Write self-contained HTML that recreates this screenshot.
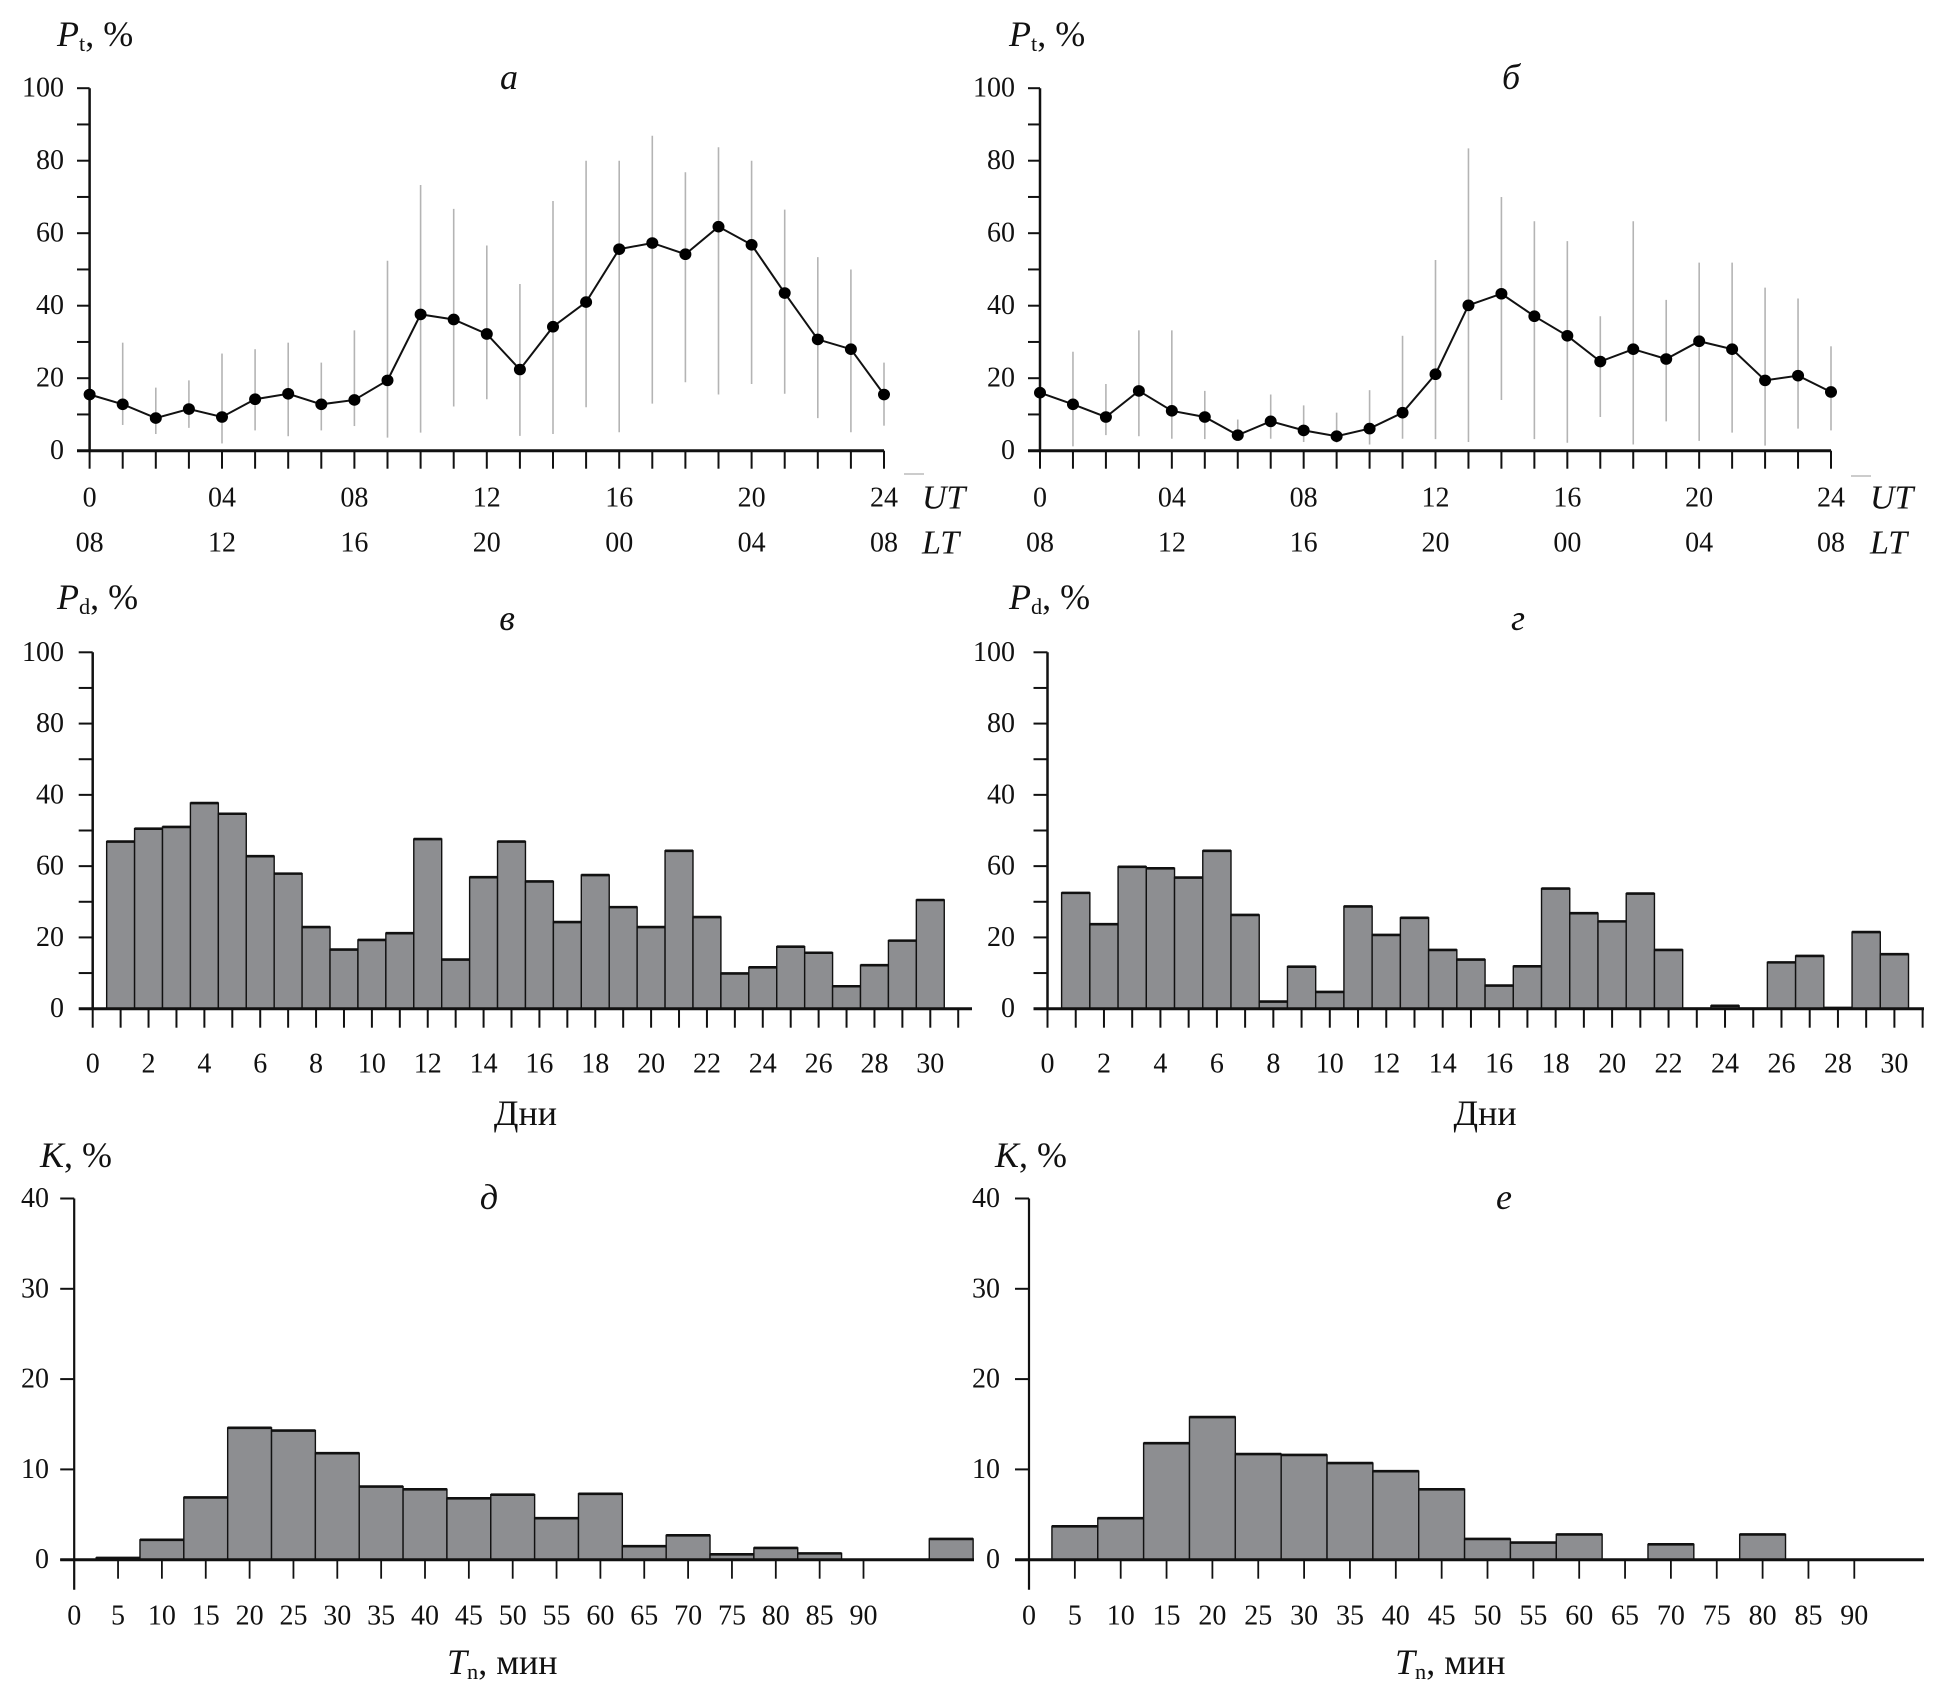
<!DOCTYPE html>
<html><head><meta charset="utf-8"><style>
html,body{margin:0;padding:0;background:#fff;}
svg{display:block;font-family:"Liberation Serif",serif;}
</style></head>
<body>
<svg id="fig" width="1938" height="1701" viewBox="0 0 1938 1701" xmlns="http://www.w3.org/2000/svg"></svg>
<script>
// ---------- DATA ----------
const hours = [0,1,2,3,4,5,6,7,8,9,10,11,12,13,14,15,16,17,18,19,20,21,22,23,24];
const utLabels = ["0","04","08","12","16","20","24"];
const ltLabels = ["08","12","16","20","00","04","08"];
const ptA = [15.5,12.8,9,11.5,9.3,14.2,15.7,12.8,14,19.4,37.6,36.2,32.2,22.4,34.2,41,55.6,57.3,54.2,61.8,56.8,43.5,30.7,28,15.5];
const ptAHi = [null,29.8,17.4,19.4,26.8,28,29.8,24.3,33.2,52.4,73.3,66.7,56.6,46,68.9,80,80,86.9,76.8,83.7,80,66.5,53.4,50,24.3];
const ptALo = [null,7.1,4.6,6.3,2,5.6,4,5.6,6.8,3.6,5,12.2,14.2,4.1,4.6,12,5.1,13,18.9,15.5,18.4,15.7,9,5.1,6.9];
const ptB = [16,12.8,9.3,16.5,11,9.3,4.3,8.1,5.6,4,6.1,10.5,21.1,40.1,43.3,37.1,31.7,24.6,28,25.3,30.2,28,19.4,20.7,16.2];
const ptBHi = [null,27.3,18.4,33.2,33.2,16.5,8.6,15.5,12.5,10.5,16.7,31.7,52.6,83.4,70,63.3,57.8,37.1,63.3,41.6,51.9,51.9,45,42,28.8];
const ptBLo = [null,1.2,4.3,4,3.3,3.2,3.6,3.3,2.4,2.2,1.7,3.3,3.2,2.4,14,3.2,2.2,9.3,1.7,8.1,2.7,5,1.4,6.1,5.6];
const lineYTicks = [0,20,40,60,80,100];

const days = [1,2,3,4,5,6,7,8,9,10,11,12,13,14,15,16,17,18,19,20,21,22,23,24,25,26,27,28,29,30];
const pdV = [46.9,50.5,51,57.7,54.7,42.8,37.9,22.9,16.6,19.3,21.2,47.6,13.8,36.9,46.9,35.7,24.3,37.5,28.5,22.9,44.3,25.7,9.9,11.6,17.4,15.7,6.3,12.2,19.1,30.5];
const pdG = [32.5,23.7,39.8,39.4,36.8,44.3,26.3,2,11.8,4.7,28.7,20.7,25.5,16.5,13.8,6.5,11.9,33.7,26.8,24.5,32.3,16.5,0,0.8,0,13,14.8,0.2,21.5,15.3];
const dayTickLabels = ["0","2","4","6","8","10","12","14","16","18","20","22","24","26","28","30"];
const barYTickVals = [0,20,40,60,80,100];
const barYTickText = ["0","20","60","40","80","100"];

const durBins = [5,10,15,20,25,30,35,40,45,50,55,60,65,70,75,80,85,90,95,100];
const kD = [0.2,2.2,6.9,14.6,14.3,11.8,8.1,7.8,6.8,7.2,4.6,7.3,1.5,2.7,0.6,1.3,0.7,0,0,2.3];
const kE = [3.7,4.6,12.9,15.8,11.7,11.6,10.7,9.8,7.8,2.3,1.9,2.8,0,1.7,0,2.8,0,0,0,0];
const durTickLabels = ["0","5","10","15","20","25","30","35","40","45","50","55","60","65","70","75","80","85","90"];
const kYTicks = [0,10,20,30,40];

// ---------- HELPERS ----------
const NS = "http://www.w3.org/2000/svg";
const svg = document.getElementById("fig");
const SX = 1.0;
function mk(tag, attrs, parent, name){
  const el = document.createElementNS(NS, tag);
  for (const k in attrs) el.setAttribute(k, attrs[k]);
  
  
  (parent||svg).appendChild(el);
  return el;
}
function grp(name){ return mk("g", {}, svg, name); }
function txt(parent, x, y, str, size, anchor, italic, name){
  const t = mk("text", {transform:`translate(${x},${y}) scale(${SX},1)`, "font-size":size, "text-anchor":anchor||"middle", "dominant-baseline":"central", fill:"#111"}, parent, name);
  if (italic) t.setAttribute("font-style","italic");
  t.textContent = str;
  return t;
}
function subTitle(parent, x, y, main, sub, rest, size, name){
  const t = mk("text", {transform:`translate(${x},${y}) scale(${SX},1)`, "font-size":size, "dominant-baseline":"central", fill:"#111"}, parent, name);
  const a = mk("tspan", {"font-style":"italic"}, t, name+"-symbol"); a.textContent = main;
  const b = mk("tspan", {"font-size":size*0.62, dy:size*0.25}, t, name+"-subscript"); b.textContent = sub;
  const c = mk("tspan", {dy:-size*0.25}, t, name+"-unit"); c.textContent = rest;
  return t;
}

// ---------- LINE PANELS ----------
function linePanel(cfg){
  const g = grp(cfg.name);
  const xs = h => cfg.x0 + (cfg.x24 - cfg.x0) * h / 24;
  const ys = v => cfg.y0 - (cfg.y0 - cfg.y100) * v / 100;
  hours.forEach((h,i)=>{
    if (cfg.hi[i] == null) return;
    mk("line",{x1:xs(h),x2:xs(h),y1:ys(cfg.hi[i]),y2:ys(cfg.lo[i]),stroke:"#b4b4b4","stroke-width":1.6}, g, "error-bar-h"+h);
  });
  mk("line",{x1:cfg.x0,x2:cfg.x0,y1:ys(100),y2:ys(0),stroke:"#111","stroke-width":2.5}, g, "y-axis");
  mk("line",{x1:cfg.axL,x2:cfg.x24,y1:ys(0),y2:ys(0),stroke:"#111","stroke-width":3}, g, "x-axis");
  for (let v=10; v<=100; v+=10) mk("line",{x1:cfg.axL,x2:cfg.x0,y1:ys(v),y2:ys(v),stroke:"#111","stroke-width":2}, g, "y-tick");
  hours.forEach(h=> mk("line",{x1:xs(h),x2:xs(h),y1:ys(0),y2:ys(0)+18,stroke:"#111","stroke-width":2}, g, "x-tick"));
  lineYTicks.forEach(v=> txt(g, cfg.yLabR, ys(v), String(v), 28, "end", false, "y-tick-label"));
  utLabels.forEach((s,i)=> txt(g, xs(i*4), cfg.utY, s, 28, "middle", false, "ut-tick-label"));
  ltLabels.forEach((s,i)=> txt(g, xs(i*4), cfg.ltY, s, 28, "middle", false, "lt-tick-label"));
  txt(g, cfg.utX, cfg.utY, "UT", 34, "start", true, "ut-axis-title");
  txt(g, cfg.utX, cfg.ltY, "LT", 34, "start", true, "lt-axis-title");
  mk("line",{x1:cfg.x24+20,x2:cfg.x24+40,y1:cfg.dashY,y2:cfg.dashY,stroke:"#bbb","stroke-width":1.5}, g, "stray-mark");
  subTitle(g, cfg.titleX, 34, "P", "t", ", %", 36, "y-axis-title");
  txt(g, cfg.letterX, 77, cfg.letter, 36, "middle", true, "panel-letter");
  const pts = hours.map((h,i)=> xs(h)+","+ys(cfg.vals[i])).join(" ");
  mk("polyline",{points:pts,fill:"none",stroke:"#111","stroke-width":2}, g, "series-line");
  hours.forEach((h,i)=> mk("ellipse",{cx:xs(h),cy:ys(cfg.vals[i]),rx:6,ry:5.8,fill:"#000"}, g, "point-h"+h));
}
linePanel({name:"panel-a", x0:89.6, x24:884, y0:450.7, y100:88.2, axL:77, yLabR:64, utY:498, ltY:543, utX:922, dashY:474, titleX:57, letterX:509, letter:"а", vals:ptA, hi:ptAHi, lo:ptALo});
linePanel({name:"panel-b", x0:1040, x24:1831, y0:450.7, y100:88.2, axL:1028, yLabR:1015, utY:498, ltY:543, utX:1870, dashY:476, titleX:1009, letterX:1511, letter:"б", vals:ptB, hi:ptBHi, lo:ptBLo});

// ---------- DAY HISTOGRAMS ----------
function dayPanel(cfg){
  const g = grp(cfg.name);
  const xs = d => cfg.x0 + cfg.dx * d;
  const ys = v => cfg.y0 - (cfg.y0 - cfg.y100) * v / 100;
  days.forEach((d,i)=>{
    const v = cfg.vals[i];
    mk("rect",{x:xs(d-0.5),y:ys(v),width:cfg.dx,height:ys(0)-ys(v),fill:"#8d8e91",stroke:"#111","stroke-width":1.4}, g, "bar-day"+d);
    mk("line",{x1:xs(d-0.5),x2:xs(d+0.5),y1:ys(v),y2:ys(v),stroke:"#111","stroke-width":2.6}, g, "bar-top-day"+d);
  });
  mk("line",{x1:cfg.x0,x2:cfg.x0,y1:ys(100),y2:ys(0),stroke:"#111","stroke-width":2.5}, g, "y-axis");
  mk("line",{x1:cfg.x0-14,x2:cfg.axR,y1:ys(0),y2:ys(0),stroke:"#111","stroke-width":3}, g, "x-axis");
  for (let v=10; v<=100; v+=10) mk("line",{x1:cfg.x0-14,x2:cfg.x0,y1:ys(v),y2:ys(v),stroke:"#111","stroke-width":2}, g, "y-tick");
  for (let d=0; d<=31; d++) mk("line",{x1:xs(d),x2:xs(d),y1:ys(0),y2:ys(0)+19,stroke:"#111","stroke-width":2}, g, "x-tick");
  barYTickVals.forEach((v,i)=> txt(g, cfg.yLabR, ys(v), barYTickText[i], 28, "end", false, "y-tick-label"));
  dayTickLabels.forEach((s,i)=> txt(g, xs(i*2), 1064, s, 28, "middle", false, "x-tick-label"));
  txt(g, cfg.x0 + cfg.dx*15.5, 1113, "Дни", 36, "middle", false, "x-axis-title");
  subTitle(g, cfg.titleX, 597, "P", "d", ", %", 36, "y-axis-title");
  txt(g, cfg.letterX, 618, cfg.letter, 36, "middle", true, "panel-letter");
}
dayPanel({name:"panel-v", x0:92.7, dx:27.92, y0:1008.7, y100:652.3, axR:972, yLabR:64, titleX:57, letterX:507, letter:"в", vals:pdV});
dayPanel({name:"panel-g", x0:1047.5, dx:28.23, y0:1008.7, y100:652.3, axR:1924, yLabR:1015, titleX:1009, letterX:1518, letter:"г", vals:pdG});

// ---------- DURATION HISTOGRAMS ----------
function durPanel(cfg){
  const g = grp(cfg.name);
  const xs = m => cfg.x0 + cfg.du * m;
  const ys = v => cfg.y0 - (cfg.y0 - cfg.y40) * v / 40;
  durBins.forEach((m,i)=>{
    const v = cfg.vals[i];
    if (v <= 0) return;
    mk("rect",{x:xs(m-2.5),y:ys(v),width:cfg.du*5,height:ys(0)-ys(v),fill:"#8d8e91",stroke:"#111","stroke-width":1.4}, g, "bar-"+m+"min");
    mk("line",{x1:xs(m-2.5),x2:xs(m+2.5),y1:ys(v),y2:ys(v),stroke:"#111","stroke-width":2.6}, g, "bar-top-"+m+"min");
  });
  mk("line",{x1:cfg.x0,x2:cfg.x0,y1:ys(40),y2:ys(0)+30,stroke:"#111","stroke-width":2.2}, g, "y-axis");
  mk("line",{x1:cfg.x0-14,x2:cfg.axR,y1:ys(0),y2:ys(0),stroke:"#111","stroke-width":3}, g, "x-axis");
  kYTicks.forEach(v=> mk("line",{x1:cfg.x0-14,x2:cfg.x0,y1:ys(v),y2:ys(v),stroke:"#111","stroke-width":2}, g, "y-tick"));
  for (let m=5; m<=90; m+=5) mk("line",{x1:xs(m),x2:xs(m),y1:ys(0),y2:ys(0)+19,stroke:"#111","stroke-width":1.8}, g, "x-tick");
  kYTicks.forEach(v=> txt(g, cfg.yLabR, ys(v), String(v), 28, "end", false, "y-tick-label"));
  durTickLabels.forEach((s,i)=> txt(g, xs(i*5), 1616, s, 28, "middle", false, "x-tick-label"));
  subTitle(g, cfg.xTitleX, 1662, "T", "n", ", мин", 36, "x-axis-title");
  const k = mk("text",{transform:`translate(${cfg.kX},1155) scale(${SX},1)`,"font-size":36,"dominant-baseline":"central",fill:"#111"}, g, "y-axis-title");
  const k1 = mk("tspan",{"font-style":"italic"}, k, "y-axis-title-symbol"); k1.textContent = "K";
  const k2 = mk("tspan",{}, k, "y-axis-title-unit"); k2.textContent = ", %";
  txt(g, cfg.letterX, 1197, cfg.letter, 36, "middle", true, "panel-letter");
}
durPanel({name:"panel-d", x0:74.2, du:8.77, y0:1559.7, y40:1198.5, axR:974, yLabR:49, xTitleX:447, kX:40, letterX:489, letter:"д", vals:kD});
durPanel({name:"panel-e", x0:1029, du:9.17, y0:1559.7, y40:1198.5, axR:1924, yLabR:1000, xTitleX:1395, kX:995, letterX:1504, letter:"е", vals:kE});
</script>
</body></html>
